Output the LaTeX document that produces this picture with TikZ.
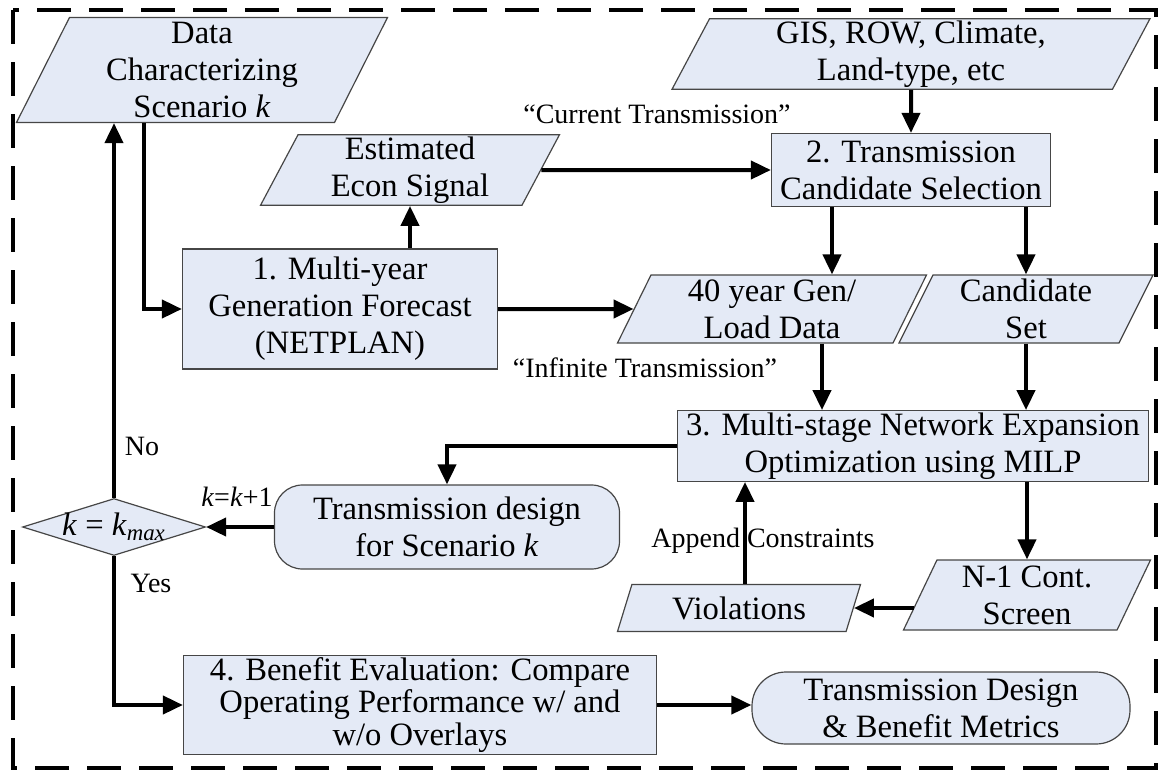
\documentclass[tikz,border=0pt]{standalone}
\usepackage{fontspec}
\setmainfont{Liberation Serif}
\usetikzlibrary{shapes.geometric,arrows.meta}
\definecolor{boxfill}{RGB}{228,234,246}
\definecolor{boxline}{RGB}{70,70,70}

\begin{document}
\begin{tikzpicture}[x=0.5pt,y=-0.5pt,
    every node/.style={font=\fontsize{16.3}{18.5}\selectfont, align=center, inner sep=1pt},
    proc/.style={draw=boxline, fill=boxfill, line width=0.6pt},
    iobox/.style={proc, trapezium, trapezium left angle=62, trapezium right angle=118, trapezium stretches body},
    endbox/.style={proc, rounded corners=14pt},
    decbox/.style={proc, diamond, inner sep=0pt},
    lbl/.style={font=\fontsize{14}{16}\selectfont},
    arr/.style={line width=2pt, -{Triangle[length=10pt,width=9pt]}},
    frame/.style={line width=2pt, dash pattern=on 17pt off 9pt}]
    \useasboundingbox (0,0) rectangle (1158,771);
    
    % Dashed frame
    \draw[frame] (13,10) rectangle (1156,768);
    
    % Define data nodes
    \node[iobox, minimum width=185.5pt, minimum height=52.5pt] (data) at (202,70) {Data\\Characterizing\\Scenario \textit{k}};
    \node[iobox, minimum width=149.5pt, minimum height=34pt] (econ) at (410,170) {Estimated\\Econ Signal};
    \node[iobox, minimum width=239pt, minimum height=34pt] (gis) at (911,54) {GIS, ROW, Climate,\\Land-type, etc};
    \node[iobox, minimum width=154.5pt, minimum height=34pt] (gen) at (772,309) {40 year Gen/\\Load Data};
    \node[iobox, minimum width=127pt, minimum height=34pt] (cand) at (1026,309) {Candidate\\Set};
    \node[iobox, minimum width=123.5pt, minimum height=35pt] (screen) at (1027,595) {N-1 Cont.\\Screen};
    \node[iobox, minimum width=121.5pt, minimum height=23.5pt] (viol) at (739,608) {Violations};
    
    % Define process steps
    \node[proc, minimum width=157.5pt, minimum height=60pt] (fcst) at (340,309) {1. Multi-year\\Generation Forecast\\(NETPLAN)};
    \node[proc, minimum width=139.5pt, minimum height=36.5pt] (select) at (911,170) {2. Transmission\\Candidate Selection};
    \node[proc, minimum width=235.5pt, minimum height=33pt] (milp) at (913,446) {3. Multi-stage Network Expansion\\Optimization using MILP};
    \node[proc, minimum width=236.5pt, minimum height=47pt, font=\fontsize{16.3}{16.3}\selectfont] (bene) at (420,705) {4. Benefit Evaluation: Compare\\Operating Performance w/ and\\w/o Overlays};
    
    % Define results and decision
    \node[endbox, minimum width=172.5pt, minimum height=42pt] (design) at (447,527) {Transmission design\\for Scenario \textit{k}};
    \node[endbox, rounded corners=17pt, minimum width=189pt, minimum height=36pt] (result) at (941,708) {Transmission Design\\\& Benefit Metrics};
    \node[decbox, minimum width=91.5pt, minimum height=28.5pt, label={center:\textit{k} = \textit{k}\textsubscript{\textit{max}}}] (check) at (114,527) {};
    
    % Labels
    \node[lbl] (curr) at (657,114) {“Current Transmission”};
    \node[lbl] (inf) at (645,368) {“Infinite Transmission”};
    \node[lbl] (app) at (763,541) {Append Constraints};
    \node[lbl] (no) at (142,446) {No};
    \node[lbl] (yes) at (151,583) {Yes};
    \node[lbl] (kinc) at (237,497) {\textit{k}=\textit{k}+1};
    
    % Draw connectors
    \draw[arr] ([xshift=-29pt]data.center |- data.south) |- (fcst.west);
    \draw[arr] (check.north) -- (check.north |- data.south);
    \draw[arr] (fcst.north -| econ.center) -- (econ.center |- econ.south);
    \draw[arr] (econ) -- (select);
    \draw[arr] (gis) -- (select);
    \draw[arr] ([xshift=-39.5pt]select.south) -- ([xshift=-39.5pt]select.south |- gen.north);
    \draw[arr] (select.south -| cand.center) -- (cand.center |- cand.north);
    \draw[arr] (fcst) -- (gen);
    \draw[arr] ([xshift=25pt]gen.center |- gen.south) -- ([xshift=25pt]gen.center |- milp.north);
    \draw[arr] (cand.center |- cand.south) -- (cand.center |- milp.north);
    \draw[arr] (milp.west) -| (design.north);
    \draw[arr] (milp.south -| screen.center) -- (screen.center |- screen.north);
    \draw[arr] ([xshift=-3pt]screen.left side |- viol.east) -- (viol.east);
    \draw[arr] ([xshift=3pt]viol.center |- viol.north) -- ([xshift=3pt]viol.center |- milp.south);
    \draw[arr] (design) -- (check);
    \draw[arr] (check.south) |- (bene.west);
    \draw[arr] (bene.east) -- (bene.east -| result.west);
\end{tikzpicture}
\end{document}
